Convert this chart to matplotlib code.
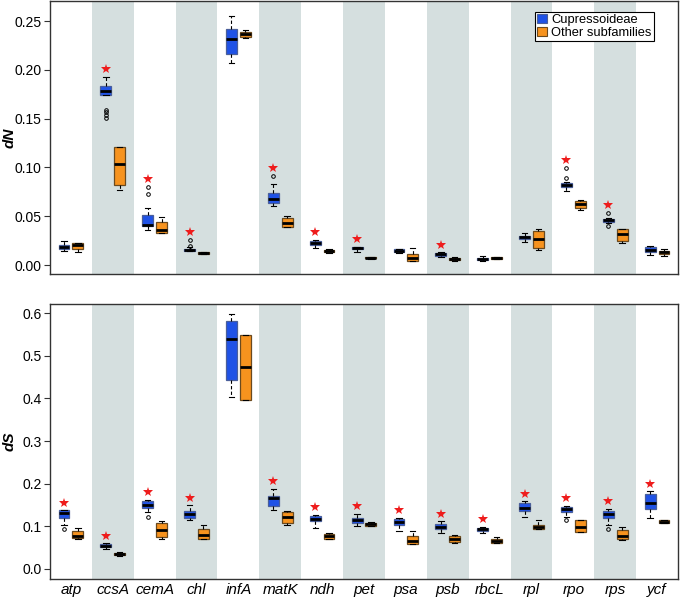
import matplotlib
matplotlib.use("Agg")
import matplotlib.pyplot as plt
from matplotlib.patches import Patch
from matplotlib import transforms

plt.rcParams['font.family'] = ['Liberation Sans', 'DejaVu Sans']

genes = ['atp', 'ccsA', 'cemA', 'chl', 'infA', 'matK', 'ndh', 'pet', 'psa',
         'psb', 'rbcL', 'rpl', 'rpo', 'rps', 'ycf']

# dN, Cupressoideae: whislo, q1, med, q3, whishi
dn_cup_lo = [0.0146, 0.174, 0.0357, 0.0140, 0.2065, 0.0605, 0.0170, 0.0129, 0.0119, 0.0085, 0.0044, 0.0238, 0.0758, 0.0432, 0.0102]
dn_cup_q1 = [0.0160, 0.174, 0.0398, 0.0143, 0.2160, 0.0640, 0.0210, 0.0165, 0.0133, 0.0095, 0.0048, 0.0265, 0.0800, 0.0442, 0.0129]
dn_cup_med = [0.0180, 0.1786, 0.0415, 0.0150, 0.2320, 0.0673, 0.0230, 0.0175, 0.0146, 0.0109, 0.0058, 0.0282, 0.0823, 0.0459, 0.0150]
dn_cup_q3 = [0.0204, 0.1833, 0.0510, 0.0165, 0.2415, 0.0738, 0.0248, 0.0187, 0.0160, 0.0119, 0.0068, 0.0296, 0.0840, 0.0476, 0.0187]
dn_cup_hi = [0.0245, 0.1930, 0.0585, 0.0185, 0.2550, 0.0827, 0.0255, 0.0187, 0.0160, 0.0129, 0.0092, 0.0323, 0.0850, 0.0486, 0.0194]
dn_cup_out = [[], [0.159, 0.1565, 0.154, 0.151], [0.080, 0.0724], [0.0255, 0.0195], [], [0.0912], [], [], [], [], [], [], [0.0993, 0.0895], [0.0537, 0.0398], []]

# dN, other subfamilies
dn_oth_lo = [0.0130, 0.0765, 0.0333, 0.0110, 0.2330, 0.0390, 0.0119, 0.0065, 0.0041, 0.0045, 0.0062, 0.0153, 0.0568, 0.0221, 0.0092]
dn_oth_q1 = [0.0160, 0.0823, 0.0333, 0.0112, 0.2340, 0.0390, 0.0129, 0.0068, 0.0041, 0.0048, 0.0065, 0.0170, 0.0588, 0.0245, 0.0112]
dn_oth_med = [0.0200, 0.1030, 0.0357, 0.0120, 0.2364, 0.0432, 0.0143, 0.0075, 0.0068, 0.0061, 0.0075, 0.0262, 0.0622, 0.0313, 0.0129]
dn_oth_q3 = [0.0230, 0.1210, 0.0440, 0.0136, 0.2390, 0.0486, 0.0153, 0.0080, 0.0116, 0.0075, 0.0082, 0.0350, 0.0656, 0.0364, 0.0146]
dn_oth_hi = [0.0230, 0.1210, 0.0490, 0.0136, 0.2405, 0.0503, 0.0160, 0.0082, 0.0177, 0.0078, 0.0085, 0.0364, 0.0670, 0.0374, 0.0160]

dn_sig = [0, 1, 1, 1, 0, 1, 1, 1, 0, 1, 0, 0, 1, 1, 0]

# dS, Cupressoideae
ds_cup_lo = [0.102, 0.047, 0.133, 0.115, 0.404, 0.137, 0.0957, 0.0996, 0.0886, 0.0847, 0.0847, 0.1216, 0.122, 0.1035, 0.119]
ds_cup_q1 = [0.119, 0.051, 0.1435, 0.119, 0.443, 0.1475, 0.111, 0.108, 0.102, 0.092, 0.0886, 0.136, 0.132, 0.119, 0.1396]
ds_cup_med = [0.131, 0.054, 0.149, 0.129, 0.539, 0.167, 0.1176, 0.1137, 0.110, 0.098, 0.0925, 0.1435, 0.1396, 0.128, 0.155]
ds_cup_q3 = [0.137, 0.057, 0.159, 0.136, 0.582, 0.171, 0.124, 0.119, 0.116, 0.104, 0.0957, 0.155, 0.145, 0.136, 0.176]
ds_cup_hi = [0.137, 0.059, 0.161, 0.149, 0.598, 0.188, 0.127, 0.129, 0.119, 0.111, 0.098, 0.158, 0.1475, 0.141, 0.182]
ds_cup_out = [[0.094], [], [0.1216], [], [], [], [], [], [], [], [], [], [0.115], [0.094], []]

# dS, other subfamilies
ds_oth_lo = [0.0706, 0.030, 0.0706, 0.0706, 0.3976, 0.1035, 0.0706, 0.099, 0.0565, 0.061, 0.059, 0.092, 0.086, 0.0667, 0.107]
ds_oth_q1 = [0.072, 0.031, 0.0745, 0.0706, 0.3976, 0.108, 0.0706, 0.0996, 0.0565, 0.0627, 0.061, 0.092, 0.086, 0.069, 0.108]
ds_oth_med = [0.077, 0.0345, 0.090, 0.078, 0.473, 0.1216, 0.077, 0.104, 0.065, 0.0706, 0.065, 0.0965, 0.098, 0.076, 0.1106]
ds_oth_q3 = [0.088, 0.037, 0.106, 0.0925, 0.549, 0.133, 0.081, 0.108, 0.077, 0.077, 0.0706, 0.1035, 0.1137, 0.090, 0.1137]
ds_oth_hi = [0.0957, 0.038, 0.111, 0.1035, 0.549, 0.135, 0.084, 0.110, 0.0886, 0.080, 0.073, 0.1137, 0.115, 0.0965, 0.115]

ds_sig = [1, 1, 1, 1, 0, 1, 1, 1, 1, 1, 1, 1, 1, 1, 1]

series_names = ['Cupressoideae', 'Other subfamilies']
blue = '#1f52e6'
blue_edge = '#4a5f9a'
orange = '#f7931e'
orange_edge = '#6b4a1f'
shade = '#d5dfdf'


def stats(lo, q1, med, q3, hi, out=None):
    res = []
    for i in range(len(lo)):
        res.append(dict(whislo=lo[i], q1=q1[i], med=med[i], q3=q3[i],
                        whishi=hi[i], fliers=(out[i] if out else [])))
    return res


fig = plt.figure(figsize=(6.8, 6.01), dpi=100)
ax1 = fig.add_axes([50 / 680, 1 - 274 / 601, 628 / 680, 273 / 601])
ax2 = fig.add_axes([50 / 680, 1 - 578.5 / 601, 628 / 680, 275 / 601])

panels = [
    (ax1, stats(dn_cup_lo, dn_cup_q1, dn_cup_med, dn_cup_q3, dn_cup_hi, dn_cup_out),
     stats(dn_oth_lo, dn_oth_q1, dn_oth_med, dn_oth_q3, dn_oth_hi), dn_sig, 'dN',
     (-0.0092, 0.2705), [0.0, 0.05, 0.10, 0.15, 0.20, 0.25], '%.2f'),
    (ax2, stats(ds_cup_lo, ds_cup_q1, ds_cup_med, ds_cup_q3, ds_cup_hi, ds_cup_out),
     stats(ds_oth_lo, ds_oth_q1, ds_oth_med, ds_oth_q3, ds_oth_hi), ds_sig, 'dS',
     (-0.0235, 0.6235), [0.0, 0.1, 0.2, 0.3, 0.4, 0.5, 0.6], '%.1f'),
]

n = len(genes)
xs = list(range(1, n + 1))
off = 0.165
bw = 0.26

for ax, cup, oth, sig, lab, ylim, yt, fmt in panels:
    for i in xs:
        if i % 2 == 0:
            ax.axvspan(i - 0.5, i + 0.5, color=shade, lw=0, zorder=0)
    for st, pos, fc, ec in [(cup, [x - off for x in xs], blue, blue_edge),
                            (oth, [x + off for x in xs], orange, orange_edge)]:
        ax.bxp(st, positions=pos, widths=bw, patch_artist=True, showfliers=True,
               manage_ticks=False,
               boxprops=dict(facecolor=fc, edgecolor=ec, linewidth=0.9),
               medianprops=dict(color='black', linewidth=2.0),
               whiskerprops=dict(color='black', linewidth=0.8, linestyle=(0, (3, 2))),
               capprops=dict(color='black', linewidth=0.8),
               capwidths=bw * 0.5,
               flierprops=dict(marker='o', markersize=2.6, markerfacecolor='none',
                               markeredgecolor='black', markeredgewidth=0.7))
    star_tr = transforms.offset_copy(ax.transData, fig=fig, x=0, y=5.5, units='points')
    for i, s in enumerate(sig):
        if s:
            top = max([cup[i]['whishi']] + list(cup[i]['fliers']))
            ax.plot(xs[i] - off, top, marker='*', color='#ee1c1c', markersize=7,
                    markeredgewidth=0, transform=star_tr, zorder=5, clip_on=False)
    ax.set_xlim(0.5, n + 0.5)
    ax.set_ylim(*ylim)
    ax.set_yticks(yt)
    ax.set_yticklabels([fmt % v for v in yt], fontsize=10)
    ax.set_ylabel(lab, fontsize=11, style='italic', fontweight='bold')
    ax.yaxis.set_label_coords(-0.053, 0.5)
    for sp in ax.spines.values():
        sp.set_color('#333333')
        sp.set_linewidth(1.0)
    ax.tick_params(axis='y', direction='out', length=4, width=0.8, color='#333333', pad=2)
    ax.tick_params(axis='x', length=0)

ax1.set_xticks([])
ax2.set_xticks(xs)
ax2.set_xticklabels(genes, fontsize=11, style='italic')
ax2.tick_params(axis='x', pad=3)

handles = [Patch(facecolor=blue, edgecolor=blue_edge, lw=0.8),
           Patch(facecolor=orange, edgecolor=orange_edge, lw=0.8)]
leg = ax1.legend(handles, series_names, loc='upper right', bbox_to_anchor=(0.961, 0.96),
                 fontsize=9.3, frameon=True, fancybox=False, framealpha=1,
                 edgecolor='black', borderpad=0.15, handlelength=0.75, handleheight=0.75,
                 handletextpad=0.35, labelspacing=0.05, borderaxespad=0)
leg.get_frame().set_linewidth(0.8)

fig.savefig('out.png', dpi=100)
